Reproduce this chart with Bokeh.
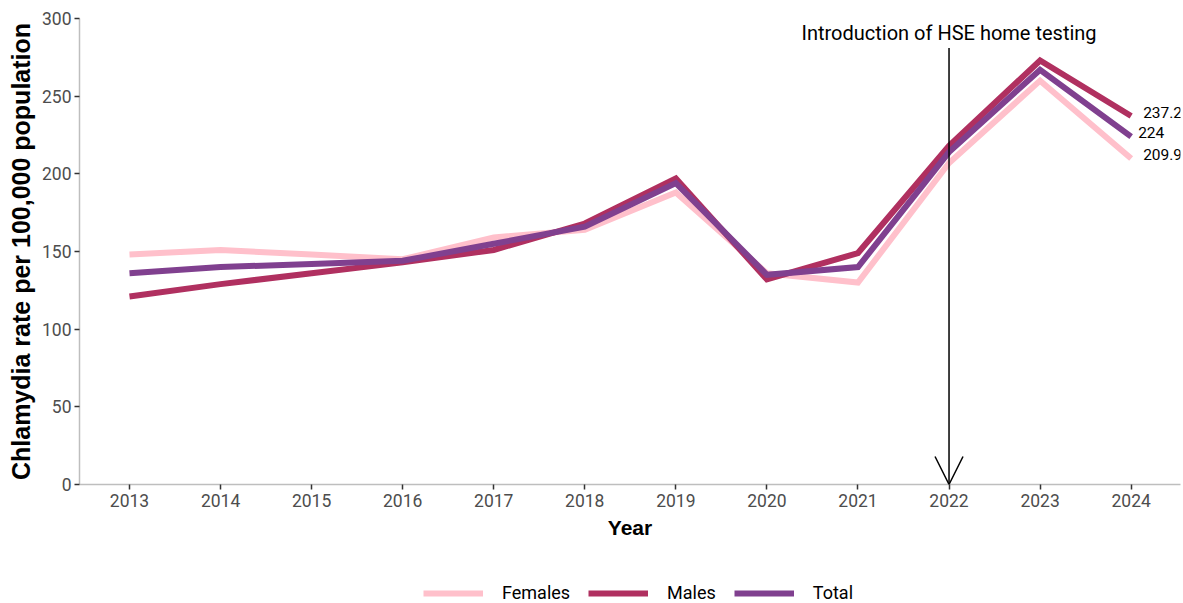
from bokeh.plotting import figure
from bokeh.layouts import column
from bokeh.models import (Range1d, FixedTicker, Legend, LegendItem, Arrow, OpenHead,
                          Label, ColumnDataSource)
from bokeh.embed import file_html
from bokeh.resources import INLINE

years = list(range(2013, 2025))
females = [148, 151, 148, 145, 159, 164, 188, 136, 130, 207, 260, 209.9]
males = [121, 129, 136, 143, 151, 168, 197, 132, 149, 218, 273, 237.2]
total = [136, 140, 142, 144, 155, 166, 194, 135, 140, 214, 267, 224]

series_names = ["Females", "Males", "Total"]
series_values = [females, males, total]
series_colors = ["#FFC0CB", "#B03060", "#80408F"]
yticks = [0, 50, 100, 150, 200, 250, 300]
annotation_year = 2022
annotation_text = "Introduction of HSE home testing"

W = 1183
H_MAIN, H_LEG = 580, 23

p = figure(width=W, height=H_MAIN, output_backend="svg", toolbar_location=None,
           x_range=Range1d(2012.451, 2024.542), y_range=Range1d(0, 300),
           min_border_left=79, min_border_right=3, min_border_top=18,
           min_border_bottom=H_MAIN - 484)
p.outline_line_color = None
p.grid.grid_line_color = None
p.background_fill_color = "white"

tick_font = "Roboto"
for ax in (p.xaxis[0], p.yaxis[0]):
    ax.axis_line_color = "#BEBEBE"
    ax.axis_line_width = 1.5
    ax.major_tick_line_color = "#333333"
    ax.major_tick_line_width = 1.5
    ax.major_tick_out = 5
    ax.major_tick_in = 0
    ax.minor_tick_line_color = None
    ax.major_label_text_color = "#4D4D4D"
    ax.major_label_text_font = tick_font
    ax.major_label_text_font_size = "17.5px"
    ax.axis_label_text_font = "Liberation Sans"
    ax.axis_label_text_font_style = "bold"
    ax.axis_label_text_color = "black"

p.xaxis.axis_label_text_font_size = "21px"
p.yaxis.axis_label_text_font_size = "25px"
p.xaxis.ticker = FixedTicker(ticks=years)
p.yaxis.ticker = FixedTicker(ticks=yticks)
p.xaxis.axis_label = "Year"
p.yaxis.axis_label = "Chlamydia rate per 100,000 population"
p.xaxis.major_label_standoff = 4
p.xaxis.axis_label_standoff = 6
p.yaxis.major_label_standoff = 3
p.yaxis.axis_label_standoff = 4

for name, vals, col in zip(series_names, series_values, series_colors):
    src = ColumnDataSource(dict(x=years, y=vals))
    p.line("x", "y", source=src, line_color=col, line_width=6,
           line_join="miter", line_cap="butt")

# End labels
offsets = {"Females": 12, "Males": 12, "Total": 7}
for name, vals in zip(series_names, series_values):
    lab = Label(x=years[-1], y=vals[-1], text=f"{vals[-1]:g}", x_offset=offsets[name],
                y_offset=4, text_font=tick_font, text_font_size="15.5px",
                text_color="black", text_baseline="middle", text_align="left")
    p.add_layout(lab)

# Annotation arrow
arrow = Arrow(end=OpenHead(size=28, line_color="black", line_width=1.5),
              x_start=annotation_year, y_start=281, x_end=annotation_year, y_end=0,
              line_color="black", line_width=1.5)
p.add_layout(arrow)
p.add_layout(Label(x=annotation_year, y=290.4, text=annotation_text,
                   text_font=tick_font, text_font_size="20px", text_color="black",
                   text_align="center", text_baseline="middle"))

# Legend strip (separate figure below, same series, lines kept out of view)
lg = figure(width=W, height=H_LEG, output_backend="svg", toolbar_location=None,
            x_range=Range1d(0, 1), y_range=Range1d(0, 1),
            min_border_left=0, min_border_right=0, min_border_top=0, min_border_bottom=0)
lg.axis.visible = False
lg.grid.grid_line_color = None
lg.outline_line_color = None
leg_renderers = []
for name, vals, col in zip(series_names, series_values, series_colors):
    src = ColumnDataSource(dict(x=years, y=vals))
    leg_renderers.append(lg.line("x", "y", source=src, line_color=col, line_width=6))

legend = Legend(items=[LegendItem(label=n, renderers=[r]) for n, r in zip(series_names, leg_renderers)],
                orientation="horizontal", location=(344, 0),
                label_text_font=tick_font, label_text_font_size="18px",
                label_text_color="black", glyph_width=60, glyph_height=20,
                label_standoff=19, spacing=18, border_line_color=None,
                background_fill_alpha=0, padding=0, margin=0, label_text_baseline="middle")
lg.add_layout(legend, "center")

layout = column(p, lg, spacing=0)
open("out.html", "w").write(file_html(layout, INLINE))
